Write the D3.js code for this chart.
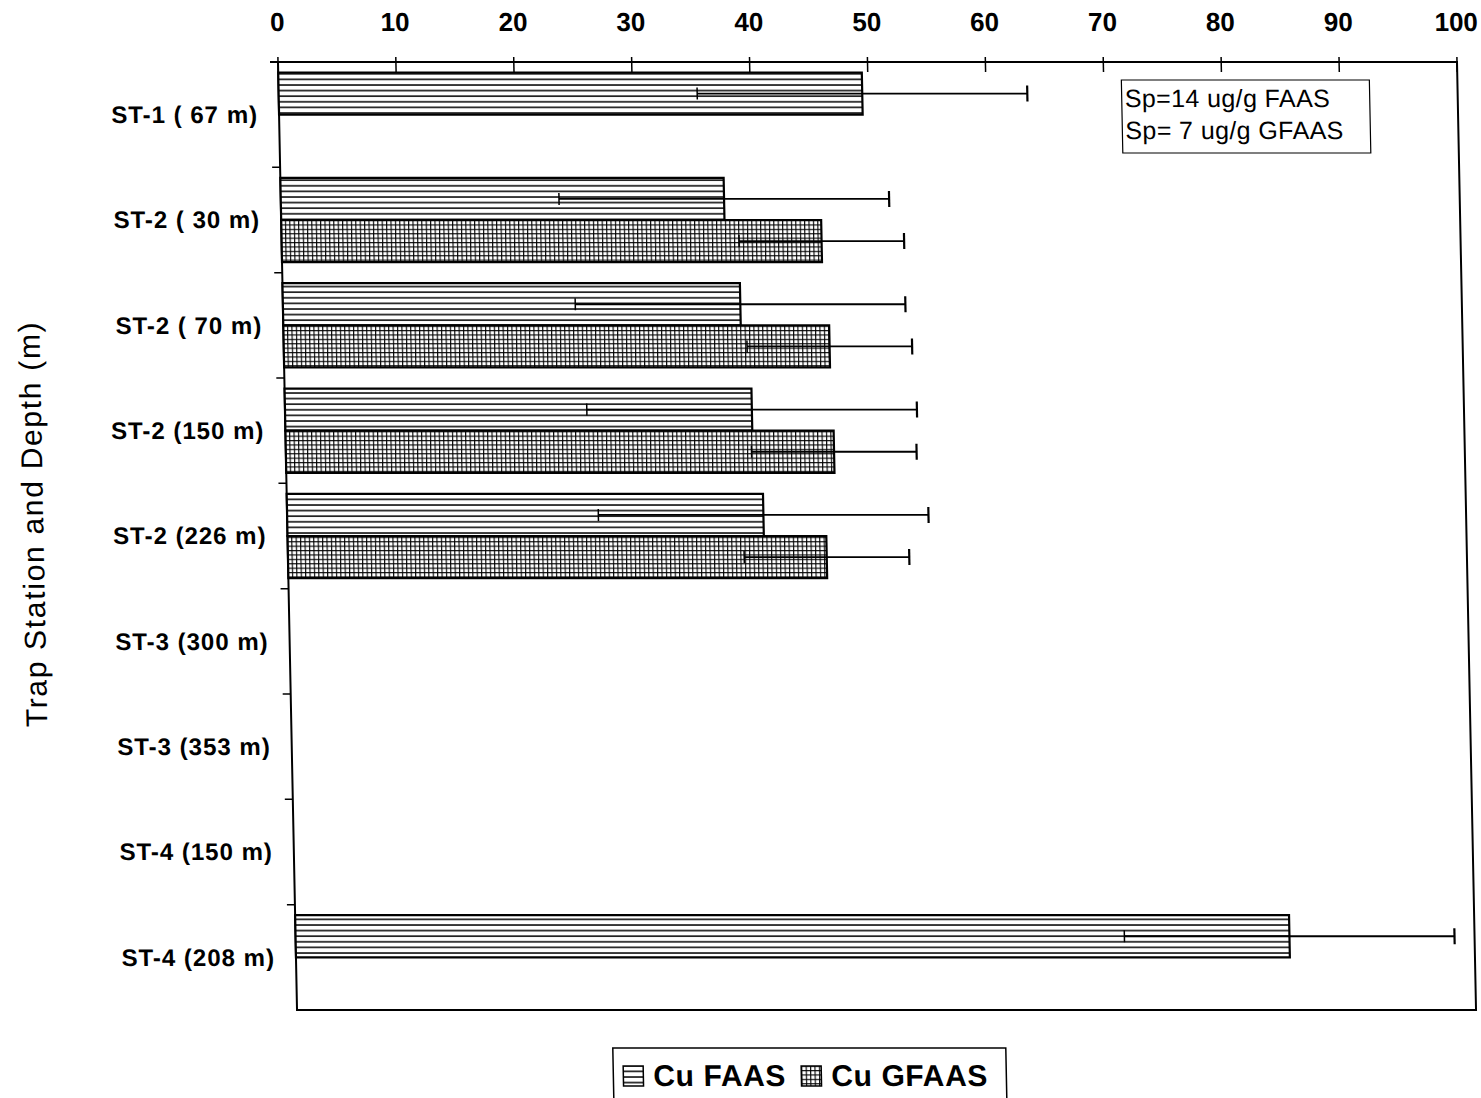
<!DOCTYPE html>
<html>
<head>
<meta charset="utf-8">
<script src="https://cdn.jsdelivr.net/npm/d3@7"></script>
<style>
  body { margin: 0; background: #fff; }
  svg { display: block; font-family: 'Liberation Sans', Arial, sans-serif; }
</style>
</head>
<body>
<div id="chart"></div>
<script>
// Data
const categories = [
  'ST-1 ( 67 m)', 'ST-2 ( 30 m)', 'ST-2 ( 70 m)', 'ST-2 (150 m)', 'ST-2 (226 m)',
  'ST-3 (300 m)', 'ST-3 (353 m)', 'ST-4 (150 m)', 'ST-4 (208 m)'
];
const series = ['Cu FAAS', 'Cu GFAAS'];
const faasValues = [49.5, 37.6, 38.8, 39.6, 40.4, null, null, null, 84.3];
const gfaasValues = [null, 45.8, 46.3, 46.5, 45.7, null, null, null, null];
const errors = [14, 7]; // Sp for FAAS, GFAAS
const xTicks = [0, 10, 20, 30, 40, 50, 60, 70, 80, 90, 100];
const noteLines = ['Sp=14 ug/g FAAS', 'Sp= 7 ug/g GFAAS'];

const W = 1481, H = 1098;
const margin = { top: 62, right: 24, bottom: 88, left: 278 };

const svg = d3.select('#chart').append('svg')
  .attr('width', W).attr('height', H);

// Patterns
const defs = svg.append('defs');
const hp = defs.append('pattern').attr('id', 'hlines')
  .attr('patternUnits', 'userSpaceOnUse').attr('width', 8).attr('height', 5.6);
hp.append('rect').attr('width', 8).attr('height', 5.6).attr('fill', '#fff');
hp.append('line').attr('x1', 0).attr('x2', 8).attr('y1', 1).attr('y2', 1)
  .attr('stroke', '#000').attr('stroke-width', 1.5);

const gp = defs.append('pattern').attr('id', 'grid')
  .attr('patternUnits', 'userSpaceOnUse').attr('width', 4.4).attr('height', 4.4);
gp.append('rect').attr('width', 4.4).attr('height', 4.4).attr('fill', '#fff');
gp.append('line').attr('x1', 0).attr('x2', 4.4).attr('y1', 0.6).attr('y2', 0.6)
  .attr('stroke', '#000').attr('stroke-width', 1.1);
gp.append('line').attr('y1', 0).attr('y2', 4.4).attr('x1', 0.6).attr('x2', 0.6)
  .attr('stroke', '#000').attr('stroke-width', 1.1);

const fills = ['url(#hlines)', 'url(#grid)'];

// The scan is slightly sheared: lean everything to match
const g = svg.append('g')
  .attr('transform', `translate(0,${margin.top}) skewX(1.15) translate(0,${-margin.top})`);

const x = d3.scaleLinear().domain([0, 100]).range([margin.left, 1457]);
const y = d3.scaleBand().domain(categories)
  .range([margin.top, H - margin.bottom]).paddingInner(0.2).paddingOuter(0.1);
const ySub = d3.scaleBand().domain(series).range([0, y.bandwidth()]);

// Frame
g.append('rect')
  .attr('x', x(0)).attr('y', margin.top)
  .attr('width', x(100) - x(0)).attr('height', H - margin.bottom - margin.top)
  .attr('fill', 'none').attr('stroke', '#000').attr('stroke-width', 2);

// Top axis
const xAxis = g.append('g').attr('transform', `translate(0,${margin.top})`);
xAxis.selectAll('line.tick').data(xTicks).join('line')
  .attr('class', 'tick')
  .attr('x1', d => x(d)).attr('x2', d => x(d))
  .attr('y1', -5).attr('y2', 10)
  .attr('stroke', '#000').attr('stroke-width', 1.5);
xAxis.append('line').attr('x1', x(0) - 8).attr('x2', x(100))
  .attr('stroke', '#000').attr('stroke-width', 2);
xAxis.selectAll('text').data(xTicks).join('text')
  .attr('x', d => x(d)).attr('y', -31)
  .attr('text-anchor', 'middle')
  .attr('font-size', 26).attr('font-weight', 'bold')
  .text(d => d);

// Left axis ticks at band boundaries
const bounds = categories.slice(1).map(c => y(c) - y.step() * y.paddingInner() / 2);
g.selectAll('line.ytick').data(bounds).join('line')
  .attr('class', 'ytick')
  .attr('x1', x(0) - 8).attr('x2', x(0))
  .attr('y1', d => d).attr('y2', d => d)
  .attr('stroke', '#000').attr('stroke-width', 1.5);

// Category labels
g.selectAll('text.cat').data(categories).join('text')
  .attr('class', 'cat')
  .attr('x', x(0) - 21)
  .attr('y', d => y(d) + y.bandwidth() / 2)
  .attr('dy', '0.35em')
  .attr('text-anchor', 'end')
  .attr('font-size', 24).attr('font-weight', 'bold')
  .attr('letter-spacing', 1)
  .text(d => d);

// Bars
const rows = [];
categories.forEach((c, i) => {
  [faasValues[i], gfaasValues[i]].forEach((v, s) => {
    if (v != null) rows.push({ cat: c, s, v, err: errors[s] });
  });
});

const bar = g.selectAll('g.bar').data(rows).join('g').attr('class', 'bar');
bar.append('rect')
  .attr('x', x(0))
  .attr('y', d => y(d.cat) + ySub(series[d.s]))
  .attr('width', d => x(d.v) - x(0))
  .attr('height', ySub.bandwidth())
  .attr('fill', d => fills[d.s])
  .attr('stroke', '#000').attr('stroke-width', 2.2);

// Error bars
const cy = d => y(d.cat) + ySub(series[d.s]) + ySub.bandwidth() / 2;
bar.append('line')
  .attr('x1', d => x(d.v - d.err)).attr('x2', d => x(d.v + d.err))
  .attr('y1', cy).attr('y2', cy)
  .attr('stroke', '#000').attr('stroke-width', 1.8);
bar.append('line')
  .attr('x1', d => x(d.v + d.err)).attr('x2', d => x(d.v + d.err))
  .attr('y1', d => cy(d) - 8).attr('y2', d => cy(d) + 8)
  .attr('stroke', '#000').attr('stroke-width', 2.2);
bar.append('line')
  .attr('x1', d => x(d.v - d.err)).attr('x2', d => x(d.v - d.err))
  .attr('y1', d => cy(d) - 6).attr('y2', d => cy(d) + 6)
  .attr('stroke', '#000').attr('stroke-width', 1.5);

// Note box
const note = g.append('g').attr('transform', `translate(${x(71.5)},${margin.top + 18})`);
note.append('rect').attr('width', 248).attr('height', 73)
  .attr('fill', '#fff').attr('stroke', '#000').attr('stroke-width', 1.2);
note.selectAll('text').data(noteLines).join('text')
  .attr('x', 3).attr('y', (d, i) => 27 + i * 32)
  .attr('font-size', 25).attr('letter-spacing', 0.4)
  .text(d => d);

// Y axis title
g.append('text')
  .attr('transform', `translate(34,${(margin.top + H - margin.bottom) / 2 - 12}) rotate(-90)`)
  .attr('text-anchor', 'middle')
  .attr('font-size', 30).attr('letter-spacing', 1.7)
  .text('Trap Station and Depth (m)');

// Legend
const legend = g.append('g').attr('transform', `translate(593,1048)`);
legend.append('rect').attr('width', 393).attr('height', 60)
  .attr('fill', '#fff').attr('stroke', '#000').attr('stroke-width', 1.5);
const li = legend.selectAll('g').data(series).join('g')
  .attr('transform', (d, i) => `translate(${10 + i * 178},0)`);
li.append('rect').attr('y', 18).attr('width', 20).attr('height', 20)
  .attr('fill', (d, i) => fills[i]).attr('stroke', '#000').attr('stroke-width', 1.5);
li.append('text').attr('x', 30).attr('y', 38)
  .attr('font-size', 30).attr('font-weight', 'bold').attr('letter-spacing', 0.6)
  .text(d => d);
</script>
</body>
</html>
